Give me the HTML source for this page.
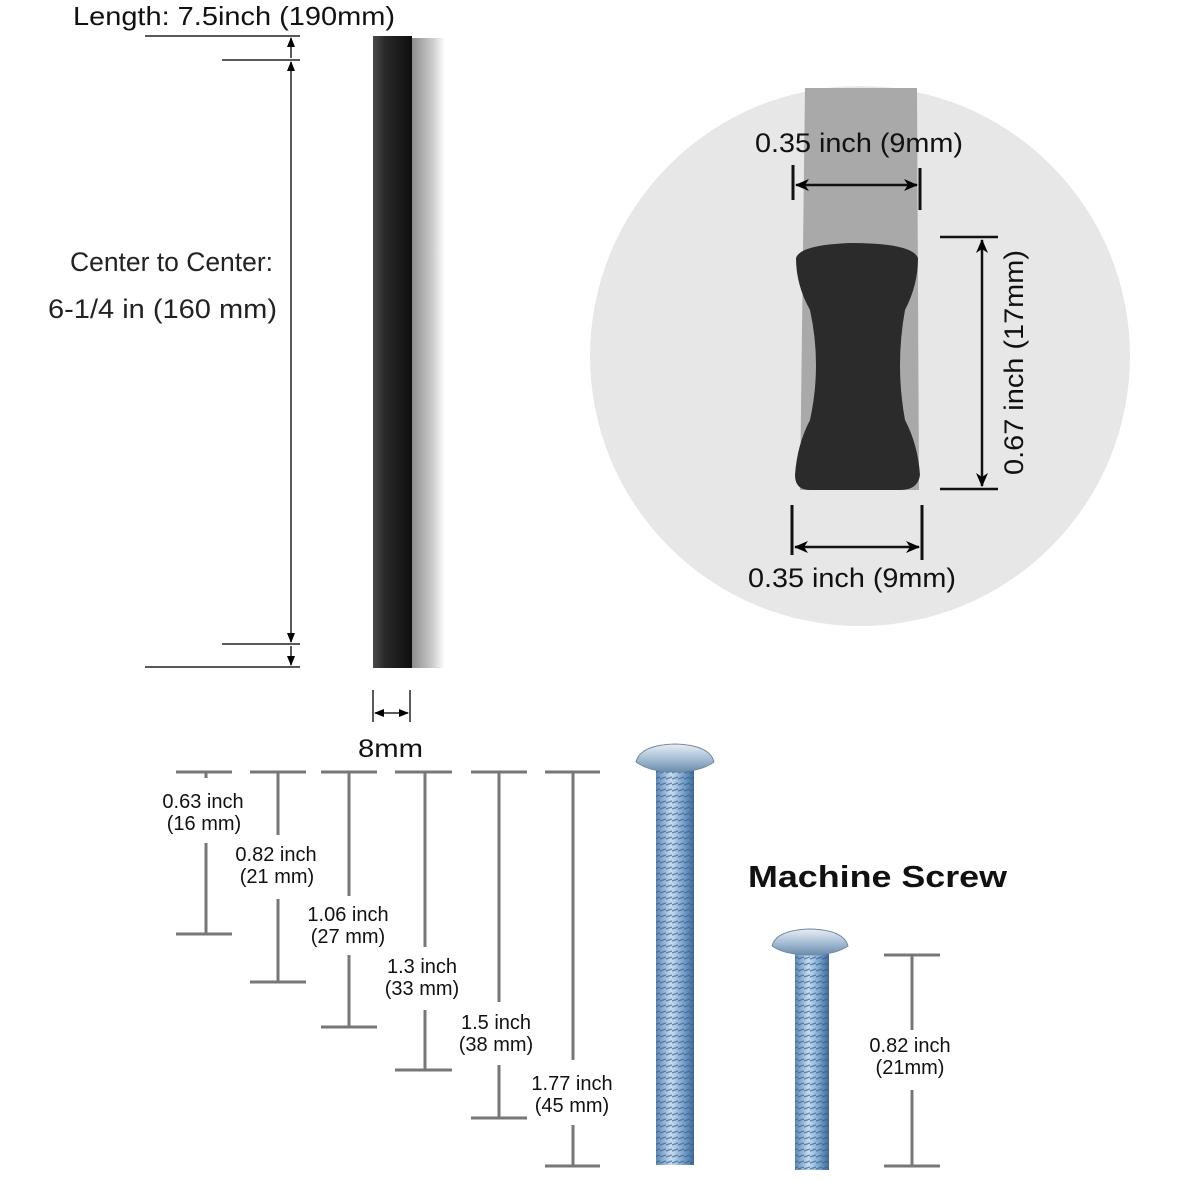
<!DOCTYPE html>
<html><head><meta charset="utf-8"><style>
html,body{margin:0;padding:0;background:#fff;}
svg{display:block;}
text{font-family:"Liberation Sans",sans-serif;}
</style></head><body>
<svg width="1181" height="1181" viewBox="0 0 1181 1181" xmlns="http://www.w3.org/2000/svg">
<defs>
<linearGradient id="bar" x1="0" x2="1">
<stop offset="0" stop-color="#4a4a4a"/><stop offset="0.3" stop-color="#2a2a2a"/><stop offset="1" stop-color="#0e0e0e"/>
</linearGradient>
<linearGradient id="sh" x1="0" x2="1">
<stop offset="0" stop-color="#8a8a8a"/><stop offset="0.6" stop-color="#c8c8c8"/><stop offset="1" stop-color="#fff"/>
</linearGradient>
<linearGradient id="scr" x1="0" x2="1">
<stop offset="0" stop-color="#5a86b4"/><stop offset="0.4" stop-color="#c7dcef"/><stop offset="0.7" stop-color="#7ea6cf"/><stop offset="1" stop-color="#3e6a98"/>
</linearGradient>
<linearGradient id="head" x1="0" x2="0" y1="0" y2="1">
<stop offset="0" stop-color="#e8eef4"/><stop offset="0.5" stop-color="#aac0d6"/><stop offset="1" stop-color="#6b8cad"/>
</linearGradient>
<pattern id="thr" width="6" height="6" patternUnits="userSpaceOnUse">
<rect width="6" height="6" fill="none"/><line x1="0" y1="5" x2="6" y2="3" stroke="#335d8a" stroke-width="1.3" opacity="0.7"/>
</pattern>
<marker id="ar" markerWidth="10" markerHeight="10" refX="9" refY="5" orient="auto-start-reverse" markerUnits="userSpaceOnUse">
<path d="M0,1 L10,5 L0,9 z" fill="#000"/></marker>
<marker id="ar2" markerWidth="14" markerHeight="14" refX="13" refY="7" orient="auto-start-reverse" markerUnits="userSpaceOnUse">
<path d="M0,1 L14,7 L0,13 L4,7 z" fill="#000"/></marker>
</defs>

<text x="73" y="25" font-size="26" fill="#111" textLength="322" lengthAdjust="spacingAndGlyphs">Length: 7.5inch (190mm)</text>
<line x1="145" y1="36" x2="300" y2="36" stroke="#222" stroke-width="1.5"/>
<line x1="222" y1="60" x2="300" y2="60" stroke="#222" stroke-width="1.5"/>
<line x1="222" y1="644" x2="300" y2="644" stroke="#222" stroke-width="1.5"/>
<line x1="145" y1="667" x2="300" y2="667" stroke="#222" stroke-width="1.5"/>
<line x1="291" y1="38" x2="291" y2="58" stroke="#222" stroke-width="1.5" marker-start="url(#ar)"/>
<line x1="291" y1="62" x2="291" y2="642" stroke="#222" stroke-width="1.5" marker-start="url(#ar)" marker-end="url(#ar)"/>
<line x1="291" y1="646" x2="291" y2="665" stroke="#222" stroke-width="1.5" marker-end="url(#ar)"/>
<text x="70" y="271" font-size="27" fill="#222" textLength="203" lengthAdjust="spacingAndGlyphs">Center to Center:</text>
<text x="48" y="318" font-size="27" fill="#222" textLength="229" lengthAdjust="spacingAndGlyphs">6-1/4 in (160 mm)</text>

<rect x="411" y="38" width="34" height="630" fill="url(#sh)"/>
<rect x="373" y="36" width="39" height="632" fill="url(#bar)"/>

<line x1="373" y1="690" x2="373" y2="722" stroke="#222" stroke-width="1.5"/>
<line x1="410" y1="690" x2="410" y2="722" stroke="#222" stroke-width="1.5"/>
<line x1="375" y1="713" x2="408" y2="713" stroke="#222" stroke-width="1.5" marker-start="url(#ar)" marker-end="url(#ar)"/>
<text x="358" y="757" font-size="25" fill="#111" textLength="65" lengthAdjust="spacingAndGlyphs">8mm</text>

<circle cx="860" cy="356" r="270" fill="#e7e7e7"/>
<path d="M805,88 L917,88 L919,490 L800,490 Z" fill="#a9a9a9"/>
<path d="M796,258 Q800,245 850,243 Q912,243 918,258 Q918,285 905,310 Q895,365 905,420 Q918,445 920,475 Q918,490 900,490 L810,490 Q795,490 795,475 Q797,445 810,420 Q822,365 810,310 Q796,285 796,258 Z" fill="#2b2b2b"/>
<text x="755" y="152" font-size="27" fill="#111" textLength="208" lengthAdjust="spacingAndGlyphs">0.35 inch (9mm)</text>
<line x1="793" y1="165" x2="793" y2="200" stroke="#111" stroke-width="3"/>
<line x1="920" y1="168" x2="920" y2="210" stroke="#111" stroke-width="3"/>
<line x1="796" y1="185" x2="917" y2="185" stroke="#111" stroke-width="2.5" marker-start="url(#ar2)" marker-end="url(#ar2)"/>
<line x1="940" y1="237" x2="998" y2="237" stroke="#111" stroke-width="2.5"/>
<line x1="940" y1="489" x2="998" y2="489" stroke="#111" stroke-width="2.5"/>
<line x1="982" y1="240" x2="982" y2="486" stroke="#111" stroke-width="2.5" marker-start="url(#ar2)" marker-end="url(#ar2)"/>
<text transform="translate(1023,475) rotate(-90)" font-size="27" fill="#111" textLength="225" lengthAdjust="spacingAndGlyphs">0.67 inch (17mm)</text>
<line x1="792" y1="505" x2="792" y2="555" stroke="#111" stroke-width="3"/>
<line x1="922" y1="505" x2="922" y2="560" stroke="#111" stroke-width="3"/>
<line x1="795" y1="547" x2="919" y2="547" stroke="#111" stroke-width="2.5" marker-start="url(#ar2)" marker-end="url(#ar2)"/>
<text x="748" y="587" font-size="27" fill="#111" textLength="208" lengthAdjust="spacingAndGlyphs">0.35 inch (9mm)</text>

<g stroke="#777" stroke-width="3" fill="none">
<line x1="176" y1="772" x2="232" y2="772"/><line x1="206" y1="772" x2="206" y2="778"/><line x1="206" y1="843" x2="206" y2="934"/><line x1="176" y1="934" x2="232" y2="934"/>
<line x1="250" y1="772" x2="306" y2="772"/><line x1="278" y1="772" x2="278" y2="835"/><line x1="278" y1="899" x2="278" y2="982"/><line x1="250" y1="982" x2="306" y2="982"/>
<line x1="321" y1="772" x2="377" y2="772"/><line x1="349" y1="772" x2="349" y2="896"/><line x1="349" y1="955" x2="349" y2="1027"/><line x1="321" y1="1027" x2="377" y2="1027"/>
<line x1="395" y1="772" x2="452" y2="772"/><line x1="425" y1="772" x2="425" y2="947"/><line x1="425" y1="1010" x2="425" y2="1070"/><line x1="395" y1="1070" x2="452" y2="1070"/>
<line x1="471" y1="772" x2="527" y2="772"/><line x1="499" y1="772" x2="499" y2="1002"/><line x1="499" y1="1065" x2="499" y2="1118"/><line x1="471" y1="1118" x2="527" y2="1118"/>
<line x1="545" y1="772" x2="600" y2="772"/><line x1="573" y1="772" x2="573" y2="1060"/><line x1="573" y1="1125" x2="573" y2="1166"/><line x1="545" y1="1166" x2="600" y2="1166"/>
<line x1="884" y1="955" x2="940" y2="955"/><line x1="912" y1="955" x2="912" y2="1030"/><line x1="912" y1="1090" x2="912" y2="1166"/><line x1="884" y1="1166" x2="940" y2="1166"/>
</g>
<g font-size="20" fill="#111" text-anchor="middle">
<text x="203" y="808">0.63 inch</text><text x="204" y="830">(16 mm)</text>
<text x="276" y="861">0.82 inch</text><text x="277" y="883">(21 mm)</text>
<text x="348" y="921">1.06 inch</text><text x="348" y="943">(27 mm)</text>
<text x="422" y="973">1.3 inch</text><text x="422" y="995">(33 mm)</text>
<text x="496" y="1029">1.5 inch</text><text x="496" y="1051">(38 mm)</text>
<text x="572" y="1090">1.77 inch</text><text x="572" y="1112">(45 mm)</text>
<text x="910" y="1052">0.82 inch</text><text x="910" y="1074">(21mm)</text>
</g>
<text x="748" y="887" font-size="31" font-weight="bold" fill="#111" textLength="259" lengthAdjust="spacingAndGlyphs">Machine Screw</text>

<rect x="656" y="765" width="38" height="400" fill="url(#scr)"/>
<rect x="656" y="765" width="38" height="400" fill="url(#thr)"/>
<path d="M636,762 Q640,745 675,744 Q710,745 714,762 Q700,772 675,772 Q650,772 636,762 Z" fill="url(#head)" stroke="#6f8aa6"/>
<rect x="795" y="948" width="34" height="222" fill="url(#scr)"/>
<rect x="795" y="948" width="34" height="222" fill="url(#thr)"/>
<path d="M772,946 Q776,930 810,929 Q844,930 848,946 Q835,955 810,955 Q785,955 772,946 Z" fill="url(#head)" stroke="#6f8aa6"/>
</svg>
</body></html>
